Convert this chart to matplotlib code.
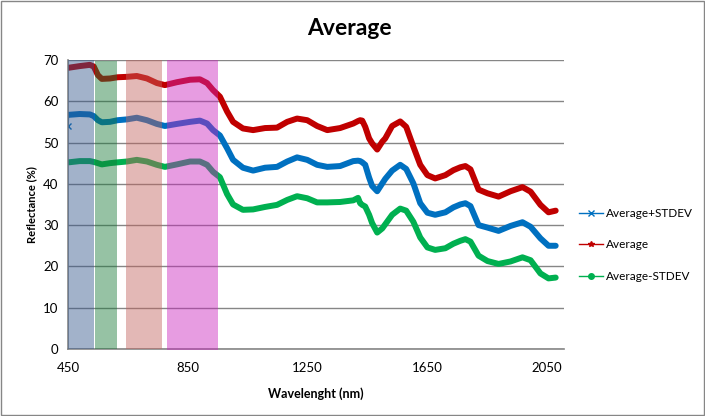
import matplotlib
matplotlib.use("Agg")
import matplotlib.pyplot as plt
from matplotlib.patches import Rectangle
from matplotlib.lines import Line2D

plt.rcParams['font.family'] = ['Lato', 'DejaVu Sans']

# wavelengths (nm) of the read-off points
wavelength = [450, 452, 489, 523, 536, 550, 563, 590, 616, 647, 680, 714, 747, 774, 814,
              858, 891, 915, 935, 958, 982, 1002, 1035, 1069, 1109, 1149, 1183, 1216,
              1250, 1283, 1317, 1360, 1404, 1420, 1427, 1434, 1444, 1457, 1467, 1484,
              1501, 1511, 1534, 1561, 1581, 1605, 1628, 1652, 1678, 1712, 1739, 1762,
              1779, 1796, 1823, 1853, 1890, 1930, 1970, 1997, 2030, 2057, 2081]

avg = [68.1, 68.1, 68.5, 68.8, 68.4, 66.3, 65.4, 65.5, 65.8, 65.9, 66.1, 65.5, 64.4, 63.9, 64.6,
       65.2, 65.3, 64.4, 62.7, 61.1, 57.5, 55.0, 53.4, 53.0, 53.5, 53.6, 55.0, 55.8,
       55.4, 54.0, 53.0, 53.5, 54.6, 55.2, 55.4, 55.3, 53.8, 51.0, 49.8, 48.3,
       50.2, 51.0, 54.0, 55.1, 53.8, 49.0, 44.6, 42.1, 41.3, 42.1, 43.3, 44.0,
       44.3, 43.5, 38.6, 37.7, 36.9, 38.2, 39.2, 38.1, 34.9, 33.1, 33.5]

avg_plus = [53.9, 56.7, 56.9, 56.8, 56.4, 55.4, 54.9, 55.0, 55.4, 55.6, 56.0, 55.4, 54.5, 54.0, 54.5,
            55.0, 55.3, 54.6, 53.0, 51.7, 48.6, 45.8, 43.9, 43.2, 43.9, 44.1, 45.4, 46.4,
            45.8, 44.6, 44.1, 44.3, 45.5, 45.6, 45.5, 45.2, 44.6, 41.5, 39.5, 38.2,
            40.1, 41.2, 43.2, 44.6, 43.6, 40.1, 35.3, 33.0, 32.5, 33.1, 34.3, 35.0,
            35.3, 34.6, 30.0, 29.4, 28.6, 29.8, 30.7, 29.6, 26.8, 25.0, 25.0]

avg_minus = [45.2, 45.2, 45.5, 45.5, 45.3, 45.0, 44.7, 45.0, 45.2, 45.4, 45.8, 45.4, 44.6, 44.1, 44.7,
             45.4, 45.4, 44.6, 42.9, 41.6, 37.5, 35.0, 33.7, 33.8, 34.4, 34.9, 36.1, 37.0,
             36.5, 35.5, 35.5, 35.6, 36.0, 36.6, 35.3, 34.9, 34.5, 32.5, 30.5, 28.2,
             29.2, 30.2, 32.5, 34.0, 33.5, 30.8, 27.0, 24.6, 24.0, 24.4, 25.5, 26.2,
             26.6, 26.0, 22.6, 21.3, 20.6, 21.2, 22.2, 21.5, 18.3, 17.1, 17.3]

series_names = ['Average+STDEV', 'Average', 'Average-STDEV']
series_colors = ['#0070C0', '#C00000', '#00B050']
series_markers = ['x', '*', 'o']

# spectral bands (start, end, top)
band_start = [450, 539, 643, 781]
band_end = [536, 615, 763, 950]
band_top = [70, 69.7, 70, 70]
band_colors = ['#31548A', '#167837', '#C3625D', '#CA24BD']

fig = plt.figure(figsize=(7.05, 4.16), dpi=100)
ax = fig.add_axes([0.0965, 0.161, 0.704, 0.695])

# first blue point drops to ~54 with a thin stroke
ax.plot(wavelength[:2], avg_plus[:2], color='#0070C0', lw=1, zorder=2)
ax.plot(wavelength[0], avg_plus[0], color='#0070C0', marker='x', ms=4, mew=1, zorder=2)
for ys, c in zip([avg_plus[1:], avg[1:], avg_minus[1:]], series_colors):
    ax.plot(wavelength[1:], ys, color=c, lw=4.3, solid_capstyle='round',
            solid_joinstyle='round', zorder=2)

for s, e, t, c in zip(band_start, band_end, band_top, band_colors):
    bottom = -0.4 if c == '#CA24BD' else 0
    ax.fill_between([s, e], bottom, t, color=c, alpha=0.45, lw=0, zorder=3)

ax.set_xlim(450, 2110)
ax.set_ylim(0, 70)
ax.set_xticks([450, 850, 1250, 1650, 2050])
ax.set_yticks(range(0, 71, 10))
ax.grid(axis='y', color='#868686', lw=1, zorder=0)
ax.set_axisbelow(True)
for side in ['top', 'right']:
    ax.spines[side].set_visible(False)
for side in ['left', 'bottom']:
    ax.spines[side].set_color('#868686')
    ax.spines[side].set_linewidth(1.2)
ax.tick_params(length=0, labelsize=9.5)
ax.tick_params(axis='x', pad=9)
ax.tick_params(axis='y', pad=7)

fig.text(0.495, 0.932, 'Average', fontsize=16.5, fontweight='bold', ha='center', va='center')
ax.set_xlabel('Wavelenght (nm)', fontsize=9, fontweight='bold', labelpad=10)
ax.set_ylabel('Reflectance (%)', fontsize=8, fontweight='bold', labelpad=4)

handles = [Line2D([], [], color=c, lw=1, marker=m, ms=4, mew=1)
           for c, m in zip(series_colors, series_markers)]
ax.legend(handles, series_names, loc='center left', bbox_to_anchor=(1.03, 0.36),
          frameon=False, fontsize=8.5, handlelength=2.0, labelspacing=1.75,
          handletextpad=0.25, borderaxespad=0, borderpad=0)

fig.patches.append(Rectangle((0.001, 0.002), 0.997, 0.995, transform=fig.transFigure,
                             fill=False, ec='#868686', lw=1))

fig.savefig('out.png', dpi=100)
